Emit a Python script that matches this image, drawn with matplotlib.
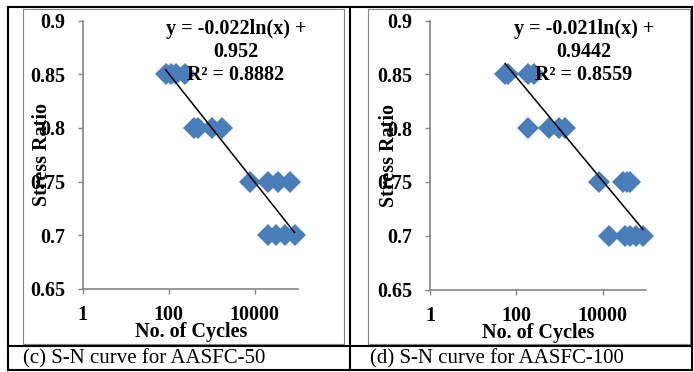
import numpy as np
import matplotlib.pyplot as plt

plt.rcParams['font.family'] = ['Liberation Serif', 'DejaVu Serif']

# (c) AASFC-50
stress_50 = [0.85, 0.85, 0.85, 0.85, 0.8, 0.8, 0.8, 0.8,
             0.75, 0.75, 0.75, 0.75, 0.7, 0.7, 0.7, 0.7]
cycles_50 = [85, 115, 150, 240, 380, 470, 1000, 1700,
             7600, 20000, 34000, 65000, 20000, 30500, 49500, 84600]
fit_50 = (-0.022, 0.952)
eq_50 = 'y = -0.022ln(x) +\n0.952\nR² = 0.8882'

# (d) AASFC-100
stress_100 = [0.85, 0.85, 0.85, 0.85, 0.8, 0.8, 0.8, 0.8,
              0.75, 0.75, 0.75, 0.75, 0.7, 0.7, 0.7, 0.7, 0.7]
cycles_100 = [55, 65, 185, 250, 185, 556, 950, 1350,
              8200, 30000, 36000, 42000, 14000, 32000, 42000, 58000, 85000]
fit_100 = (-0.021, 0.9442)
eq_100 = 'y = -0.021ln(x) +\n0.9442\nR² = 0.8559'

y_ticks = [0.65, 0.7, 0.75, 0.8, 0.85, 0.9]
x_ticks = [1, 100, 10000]
captions = ['(c) S-N curve for AASFC-50', '(d) S-N curve for AASFC-100']

W, H = 694, 372
fig = plt.figure(figsize=(W / 100, H / 100), dpi=100)
fig.patch.set_facecolor('white')

# overlay in pixel coords for the table borders and captions
bg = fig.add_axes([0, 0, 1, 1])
bg.set_xlim(0, W)
bg.set_ylim(H, 0)
bg.axis('off')

GREY = '#868686'
for x0, x1 in [(23, 344), (368, 690)]:
    bg.plot([x0, x1, x1, x0, x0], [9, 9, 344, 344, 9], color=GREY, lw=0.8)
for xs, ys in [([8, 692], [7, 7]), ([8, 692], [370, 370]), ([8, 692], [345.5, 345.5]),
               ([8, 8], [7, 370]), ([692, 692], [7, 370]), ([350, 350], [7, 370])]:
    bg.plot(xs, ys, color='black', lw=1.5, solid_capstyle='projecting')
bg.text(23, 359, captions[0], fontsize=15, ha='left', va='center')
bg.text(370, 359, captions[1], fontsize=15, ha='left', va='center')


def draw_panel(rect, cycles, stress, fit, eq):
    ax = fig.add_axes(rect)
    ax.set_facecolor('none')
    ax.set_xscale('log')
    ax.set_xlim(1, 1e5)
    ax.set_ylim(0.65, 0.9)
    ax.set_xticks(x_ticks)
    ax.set_xticklabels([str(t) for t in x_ticks])
    ax.minorticks_off()
    ax.set_yticks(y_ticks)
    ax.set_yticklabels(['0.65', '0.7', '0.75', '0.8', '0.85', '0.9'])
    for s in ['top', 'right']:
        ax.spines[s].set_visible(False)
    for s in ['left', 'bottom']:
        ax.spines[s].set_color(GREY)
        ax.spines[s].set_linewidth(1.2)
    ax.tick_params(axis='both', colors=GREY, labelcolor='black', length=3.6, width=1.0,
                   labelsize=14.5)
    ax.tick_params(axis='y', pad=9)
    ax.tick_params(axis='x', pad=8)
    for lbl in ax.get_xticklabels() + ax.get_yticklabels():
        lbl.set_fontweight('bold')

    ax.plot(cycles, stress, linestyle='none', marker='D', markersize=11.5,
            markerfacecolor='#4a7ebb', markeredgewidth=0, clip_on=False, zorder=3)

    a, b = fit
    xs = np.array([min(cycles), max(cycles)])
    ax.plot(xs, a * np.log(xs) + b, color='black', lw=1.1, zorder=4)

    ax.text(0.713, 0.883, eq, transform=ax.transAxes, ha='center', va='center',
            multialignment='center', fontsize=14.5, fontweight='bold', linespacing=1.2,
            zorder=5)
    ax.text(0.503, -0.16, 'No. of Cycles', transform=ax.transAxes, ha='center',
            va='center', fontsize=14.5, fontweight='bold')
    ax.text(-0.19, 0.5, 'Stress Ratio', transform=ax.transAxes, ha='center',
            va='center', rotation=90, fontsize=14.5, fontweight='bold')
    return ax


draw_panel([82.7 / W, (H - 288.7) / H, 215 / W, 268 / H], cycles_50, stress_50, fit_50, eq_50)
draw_panel([430 / W, (H - 289.5) / H, 216 / W, 268.8 / H], cycles_100, stress_100, fit_100, eq_100)

fig.savefig('out.png', dpi=100, facecolor='white')
